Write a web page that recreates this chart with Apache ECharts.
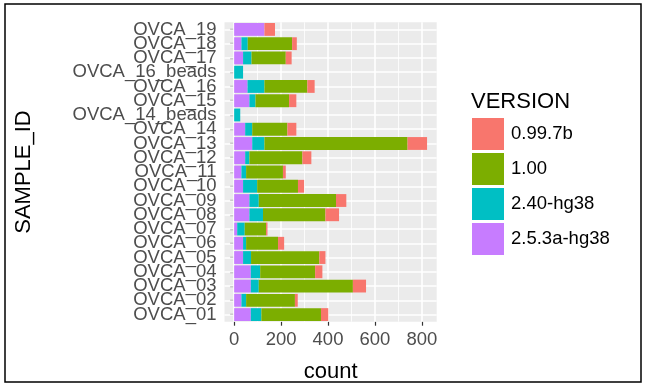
<!DOCTYPE html>
<html>
<head>
<meta charset="utf-8">
<script src="https://cdn.jsdelivr.net/npm/echarts@6/dist/echarts.min.js"></script>
<style>
html,body{margin:0;padding:0;background:#fff;}
#chart{width:648px;height:386px;}
</style>
</head>
<body>
<div id="chart"></div>
<script>
// Categories, bottom to top
const categories = ['OVCA_01','OVCA_02','OVCA_03','OVCA_04','OVCA_05','OVCA_06','OVCA_07','OVCA_08','OVCA_09','OVCA_10','OVCA_11','OVCA_12','OVCA_13','OVCA_14','OVCA_14_beads','OVCA_15','OVCA_16','OVCA_16_beads','OVCA_17','OVCA_18','OVCA_19'];

// Series values (same order as categories)
const v253a = [71,31,71,71,38,38,13,65,65,38,31,47,77,47,0,65,57,0,38,31,129];
const v240  = [45,20,34,40,34,13,32,58,40,60,20,18,52,30,26,26,72,38,36,27,0];
const v100  = [254,208,401,234,291,136,91,266,329,174,157,226,610,150,0,143,183,0,146,189,0];
const v0997 = [31,12,56,31,26,26,6,58,44,26,12,38,83,38,0,31,31,0,25,20,45];

const versionNames = ['0.99.7b','1.00','2.40-hg38','2.5.3a-hg38'];
const versionColors = ['#F8766D','#7CAE00','#00BFC4','#C77CFF'];

// Axis ticks
const xTicks = [0,200,400,600,800];
const xMinor = [100,300,500,700];
const xMin = -41.1, xMax = 863.1;

const FONT = 'Liberation Sans, Arial, sans-serif';

const chart = echarts.init(document.getElementById('chart'), null, {renderer:'canvas'});

function barSeries(name, data, color){
  return {
    name: name, type: 'bar', stack: 'total', data: data,
    barCategoryGap: '10%', z: 10,
    itemStyle: {color: color},
    emphasis: {disabled: true}
  };
}

const gridLines = [];
xTicks.forEach(v => gridLines.push({xAxis: v, lineStyle: {color:'#fff', width:1.6, type:'solid'}}));
xMinor.forEach(v => gridLines.push({xAxis: v, lineStyle: {color:'#fff', width:0.8, type:'solid'}}));
categories.forEach(c => gridLines.push({yAxis: c, lineStyle: {color:'#fff', width:1.6, type:'solid'}}));

const option = {
  backgroundColor: '#fff',
  animation: false,
  title: {
    text: 'VERSION', left: 471, top: 91, padding: 0,
    textStyle: {fontFamily: FONT, fontSize: 22, fontWeight: 'normal', color: '#000'}
  },
  legend: {
    orient: 'vertical', left: 472, top: 118, padding: 0,
    itemWidth: 32, itemHeight: 32, itemGap: 3,
    icon: 'rect',
    data: versionNames,
    selectedMode: false,
    textStyle: {fontFamily: FONT, fontSize: 18.5, color: '#000', padding: [0,0,0,2]}
  },
  grid: {
    left: 224.5, right: 211.3, top: 22.3, bottom: 64.3,
    containLabel: false, outerBoundsMode: 'none',
    show: true, backgroundColor: '#EBEBEB', borderWidth: 0
  },
  xAxis: {
    type: 'value', min: xMin, max: xMax,
    axisLine: {show: false},
    splitLine: {show: false},
    axisTick: {show: true, customValues: xTicks, length: 4, lineStyle: {color: '#333', width: 1.2}},
    axisLabel: {customValues: xTicks, fontFamily: FONT, fontSize: 18.5, color: '#4d4d4d', margin: 9},
    name: 'count', nameLocation: 'middle', nameGap: 39,
    nameTextStyle: {fontFamily: FONT, fontSize: 22, color: '#000'}
  },
  yAxis: {
    type: 'category', data: categories,
    axisLine: {show: false},
    splitLine: {show: false},
    axisTick: {show: true, alignWithLabel: true, length: 4, lineStyle: {color: '#333', width: 1.2}},
    axisLabel: {fontFamily: FONT, fontSize: 18.5, color: '#4d4d4d', margin: 8, interval: 0},
    name: 'SAMPLE_ID', nameLocation: 'middle', nameRotate: 90, nameGap: 190,
    nameTextStyle: {fontFamily: FONT, fontSize: 22, color: '#000'}
  },
  series: [
    {
      type: 'line', data: [], z: 1, silent: true,
      markLine: {silent: true, z: 1, symbol: 'none', label: {show: false}, animation: false, data: gridLines}
    },
    barSeries(versionNames[3], v253a, versionColors[3]),
    barSeries(versionNames[2], v240, versionColors[2]),
    barSeries(versionNames[1], v100, versionColors[1]),
    barSeries(versionNames[0], v0997, versionColors[0])
  ],
  graphic: [{
    type: 'rect', silent: true, z: 100,
    shape: {x: 5, y: 4, width: 636, height: 378},
    style: {fill: 'none', stroke: '#000', lineWidth: 1.5}
  }]
};

chart.setOption(option);
</script>
</body>
</html>
